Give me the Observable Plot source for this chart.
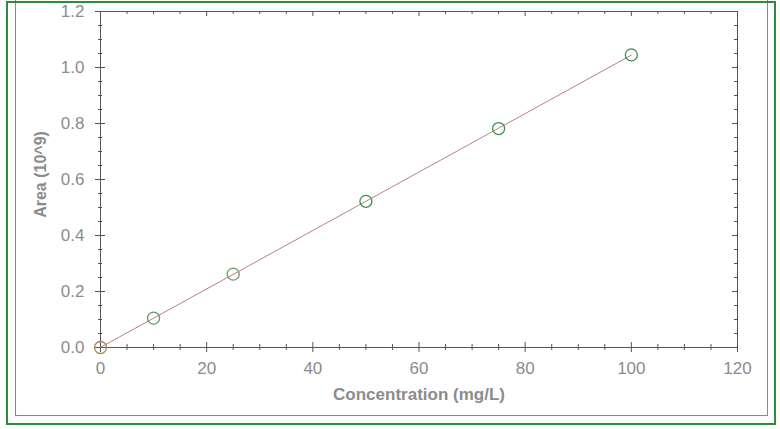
<!DOCTYPE html>
<html><head><meta charset="utf-8">
<script src="https://cdn.jsdelivr.net/npm/d3@7"></script>
<script src="https://cdn.jsdelivr.net/npm/@observablehq/plot@0.6"></script>
<style>
body{margin:0;background:#fff}
#wrap{position:relative;width:780px;height:429px;overflow:hidden;background:#fff}
.b{position:absolute;box-sizing:border-box;pointer-events:none}
</style>
</head><body>
<div id="wrap"></div>
<script>
// Data
const concentration = [0, 10, 25, 50, 75, 100];
const area = [0.0, 0.105, 0.262, 0.522, 0.782, 1.045];
const pointColors = ["#a08a5a", "#5a9a6a", "#6a9a72", "#3f8f4f", "#3f8f4f", "#3f8f4f"];
const xMajor = [0, 20, 40, 60, 80, 100, 120];
const yMajor = [0, 0.2, 0.4, 0.6, 0.8, 1.0, 1.2];
const xLabel = "Concentration (mg/L)";
const yLabel = "Area (10^9)";

const xMinor = d3.range(0, 121, 5).filter(v => v % 20 !== 0);
const yMinor = d3.range(0, 25).map(i => i * 0.05).filter((v, i) => i % 4 !== 0);
const data = concentration.map((c, i) => ({c, a: area[i], col: pointColors[i]}));

const axisCol = "#555";
const textCol = "#8c8c8c";

const chart = Plot.plot({
  width: 780, height: 429,
  marginLeft: 100, marginRight: 43, marginTop: 11, marginBottom: 82,
  style: {fontFamily: "Arial, 'Liberation Sans', sans-serif", background: "transparent"},
  x: {domain: [0, 120]},
  y: {domain: [0, 1.2]},
  marks: [
    Plot.frame({stroke: axisCol, strokeWidth: 1}),
    // bottom ticks (crossing)
    Plot.ruleX(xMajor, {x: d => d, y1: 0, y2: 0, insetTop: -5, insetBottom: -5, stroke: axisCol}),
    Plot.ruleX(xMinor, {x: d => d, y1: 0, y2: 0, insetTop: -3, insetBottom: -3, stroke: axisCol}),
    // left ticks (crossing)
    Plot.ruleY(yMajor, {y: d => d, x1: 0, x2: 0, insetLeft: -5, insetRight: -5, stroke: axisCol}),
    Plot.ruleY(yMinor, {y: d => d, x1: 0, x2: 0, insetLeft: -2, insetRight: -2, stroke: axisCol}),
    // top ticks (inward)
    Plot.ruleX(xMajor, {x: d => d, y1: 1.2, y2: 1.2, insetBottom: -5, stroke: axisCol}),
    Plot.ruleX(xMinor, {x: d => d, y1: 1.2, y2: 1.2, insetBottom: -3, stroke: axisCol}),
    // right ticks (inward)
    Plot.ruleY(yMajor, {y: d => d, x1: 120, x2: 120, insetLeft: -5, stroke: axisCol}),
    Plot.ruleY(yMinor, {y: d => d, x1: 120, x2: 120, insetLeft: -3, stroke: axisCol}),
    Plot.axisX({ticks: xMajor, tickSize: 0, tickPadding: 14, fontSize: 17, color: textCol, label: null, tickFormat: d => String(d)}),
    Plot.axisY({ticks: yMajor, tickSize: 0, tickPadding: 16, fontSize: 17, color: textCol, label: null, tickFormat: d3.format(".1f")}),
    Plot.linearRegressionY(data, {x: "c", y: "a", ci: 0, stroke: "#b98080", strokeWidth: 1}),
    Plot.dot(data, {x: "c", y: "a", r: 6, stroke: "col", strokeWidth: 1.3, fill: "none"}),
    Plot.text([xLabel], {frameAnchor: "bottom", text: d => d, dy: 52, fontSize: 17, fontWeight: "bold", fill: textCol}),
    Plot.text([yLabel], {frameAnchor: "left", textAnchor: "middle", text: d => d, dx: -60, dy: -5, rotate: -90, fontSize: 16, fontWeight: "bold", fill: textCol})
  ]
});
const wrap = document.getElementById("wrap");
chart.style.position = "absolute";
chart.style.left = "0";
chart.style.top = "0";
wrap.appendChild(chart);
const gray = document.createElement("div");
gray.className = "b";
Object.assign(gray.style, {left: "15px", top: "-10px", width: "753px", height: "426px", border: "1.5px solid #8a8a8a"});
wrap.appendChild(gray);
const green = document.createElement("div");
green.className = "b";
Object.assign(green.style, {left: "6px", top: "1px", width: "770px", height: "424px", border: "2px solid #2f8a3e"});
wrap.appendChild(green);
</script>
</body></html>
